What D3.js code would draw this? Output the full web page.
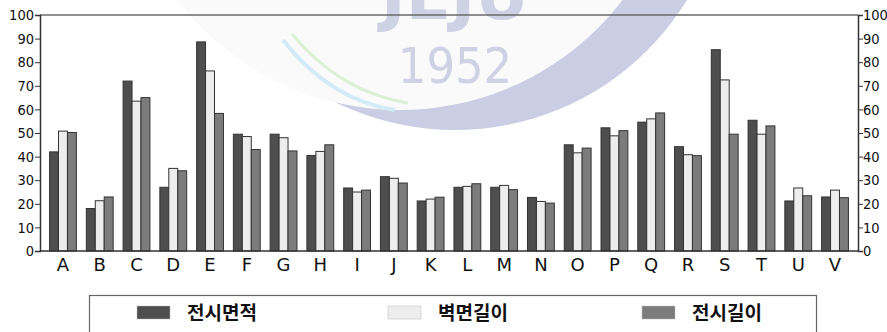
<!DOCTYPE html>
<html>
<head>
<meta charset="utf-8">
<script src="https://cdn.jsdelivr.net/npm/d3@7"></script>
<style>
  body { margin: 0; background: #fff; }
  svg { display: block; }
</style>
</head>
<body>
<div id="chart"></div>
<script>
// categories and series
var categories = ["A","B","C","D","E","F","G","H","I","J","K","L","M","N","O","P","Q","R","S","T","U","V"];
var seriesNames = ["전시면적","벽면길이","전시길이"];
var area   = [42, 18, 72, 27, 88.6, 49.5, 49.5, 40.5, 26.7, 31.5, 21.2, 27, 27, 22.7, 45, 52.2, 54.6, 44.2, 85.3, 55.4, 21.2, 22.9];
var wall   = [50.8, 21.3, 63.5, 35, 76.3, 48.5, 48, 42.2, 25, 30.8, 22, 27.4, 27.8, 21, 41.6, 48.8, 56, 40.8, 72.5, 49.5, 26.7, 25.8];
var length = [50.2, 22.9, 65, 34, 58.3, 43, 42.4, 45, 25.8, 28.8, 22.8, 28.5, 26, 20.3, 43.6, 51, 58.5, 40.4, 49.5, 53, 23.4, 22.6];
var yTicks = [0,10,20,30,40,50,60,70,80,90,100];
var colors = ["#4e4e4e","#ededed","#7c7c7c"];

var width = 887, height = 332;
var plotLeft = 40, plotRight = 858, plotTop = 15, plotBottom = 251;

var svg = d3.select("#chart").append("svg")
    .attr("width", width)
    .attr("height", height);

// faint watermark of the source document (logo)
var wm = svg.append("g").attr("id", "watermark");
wm.append("circle")
    .attr("cx", 455).attr("cy", -142).attr("r", 272)
    .attr("fill", "#cbcde5");
wm.append("circle")
    .attr("cx", 400).attr("cy", -170).attr("r", 280)
    .attr("fill", "#fafafb");
wm.append("path")
    .attr("d", "M283,40 Q330,100 395,110")
    .attr("fill", "none").attr("stroke", "#d3ebf6").attr("stroke-width", 4);
wm.append("path")
    .attr("d", "M292,34 Q340,92 408,103")
    .attr("fill", "none").attr("stroke", "#dcf0d6").attr("stroke-width", 3);
wm.append("text")
    .attr("x", 455).attr("y", 19)
    .attr("text-anchor", "middle")
    .attr("font-family", "DejaVu Sans")
    .attr("font-weight", "bold")
    .attr("font-size", 66)
    .attr("fill", "#cfd1e4")
    .text("JEJU");
wm.append("text")
    .attr("x", 455).attr("y", 83)
    .attr("text-anchor", "middle")
    .attr("font-family", "DejaVu Sans Condensed")
    .attr("font-size", 50)
    .attr("fill", "#cfd1e4")
    .text("1952");

var xScale = d3.scaleBand()
    .domain(categories)
    .range([plotLeft, plotRight])
    .paddingInner(0.27)
    .paddingOuter(0.26);

var xSub = d3.scaleBand()
    .domain(d3.range(seriesNames.length))
    .range([0, xScale.bandwidth()]);

var yScale = d3.scaleLinear()
    .domain([0, 100])
    .range([plotBottom, plotTop]);

var series = [area, wall, length];

// frame top line
svg.append("line")
    .attr("x1", plotLeft).attr("x2", plotRight)
    .attr("y1", plotTop).attr("y2", plotTop)
    .attr("stroke", "#6a6a6a").attr("stroke-width", 1.5);

var groups = svg.append("g")
    .selectAll("g")
    .data(series)
    .enter()
    .append("g")
    .attr("fill", function(d, i){ return colors[i]; });

groups.selectAll("rect")
    .data(function(d, i){ return d.map(function(v, j){ return {v: v, c: categories[j], s: i}; }); })
    .enter()
    .append("rect")
    .attr("x", function(d){ return xScale(d.c) + xSub(d.s); })
    .attr("y", function(d){ return yScale(d.v); })
    .attr("width", xSub.bandwidth())
    .attr("height", function(d){ return yScale(0) - yScale(d.v); })
    .attr("stroke", "#333")
    .attr("stroke-width", 1);

var yAxisL = d3.axisLeft(yScale).tickValues(yTicks).tickSize(5).tickPadding(1);
var yAxisR = d3.axisRight(yScale).tickValues(yTicks).tickSize(5).tickPadding(0);

var gl = svg.append("g")
    .attr("transform", "translate(" + plotLeft + ",0)")
    .call(yAxisL);
var gr = svg.append("g")
    .attr("transform", "translate(" + plotRight + ",0)")
    .call(yAxisR);

[gl, gr].forEach(function(g){
  g.select(".domain").attr("stroke", "#333").attr("stroke-width", 1.5);
  g.selectAll(".tick line").attr("stroke", "#333");
  g.selectAll("text")
    .attr("font-family", "DejaVu Sans Condensed")
    .attr("font-size", 14.5)
    .attr("fill", "#111");
});

svg.append("line")
    .attr("x1", plotLeft).attr("x2", plotRight)
    .attr("y1", plotBottom).attr("y2", plotBottom)
    .attr("stroke", "#333").attr("stroke-width", 1.5);

var xAxis = d3.axisBottom(xScale).tickSize(0).tickPadding(7);
var gx = svg.append("g")
    .attr("transform", "translate(0," + plotBottom + ")")
    .call(xAxis);
gx.select(".domain").remove();
gx.selectAll("text")
    .attr("font-family", "DejaVu Sans")
    .attr("font-size", 18)
    .attr("fill", "#111");

// legend
var legend = svg.append("g");
legend.append("rect")
    .attr("x", 89.5).attr("y", 295.5)
    .attr("width", 727).attr("height", 60)
    .attr("fill", "#fff")
    .attr("stroke", "#666").attr("stroke-width", 1.2);

var legendX = [137, 388, 642];
var items = legend.selectAll("g.item")
    .data(seriesNames)
    .enter()
    .append("g")
    .attr("class", "item")
    .attr("transform", function(d, i){ return "translate(" + legendX[i] + ",306)"; });
items.append("rect")
    .attr("width", 33).attr("height", 13)
    .attr("fill", function(d, i){ return colors[i]; })
    .attr("stroke", "#bbb").attr("stroke-width", 0.5);
items.append("text")
    .attr("x", 50).attr("y", 7)
    .attr("dy", "0.36em")
    .attr("font-family", "Noto Sans CJK KR")
    .attr("font-weight", "bold")
    .attr("font-size", 19)
    .attr("fill", "#111")
    .text(function(d){ return d; });
</script>
</body>
</html>
